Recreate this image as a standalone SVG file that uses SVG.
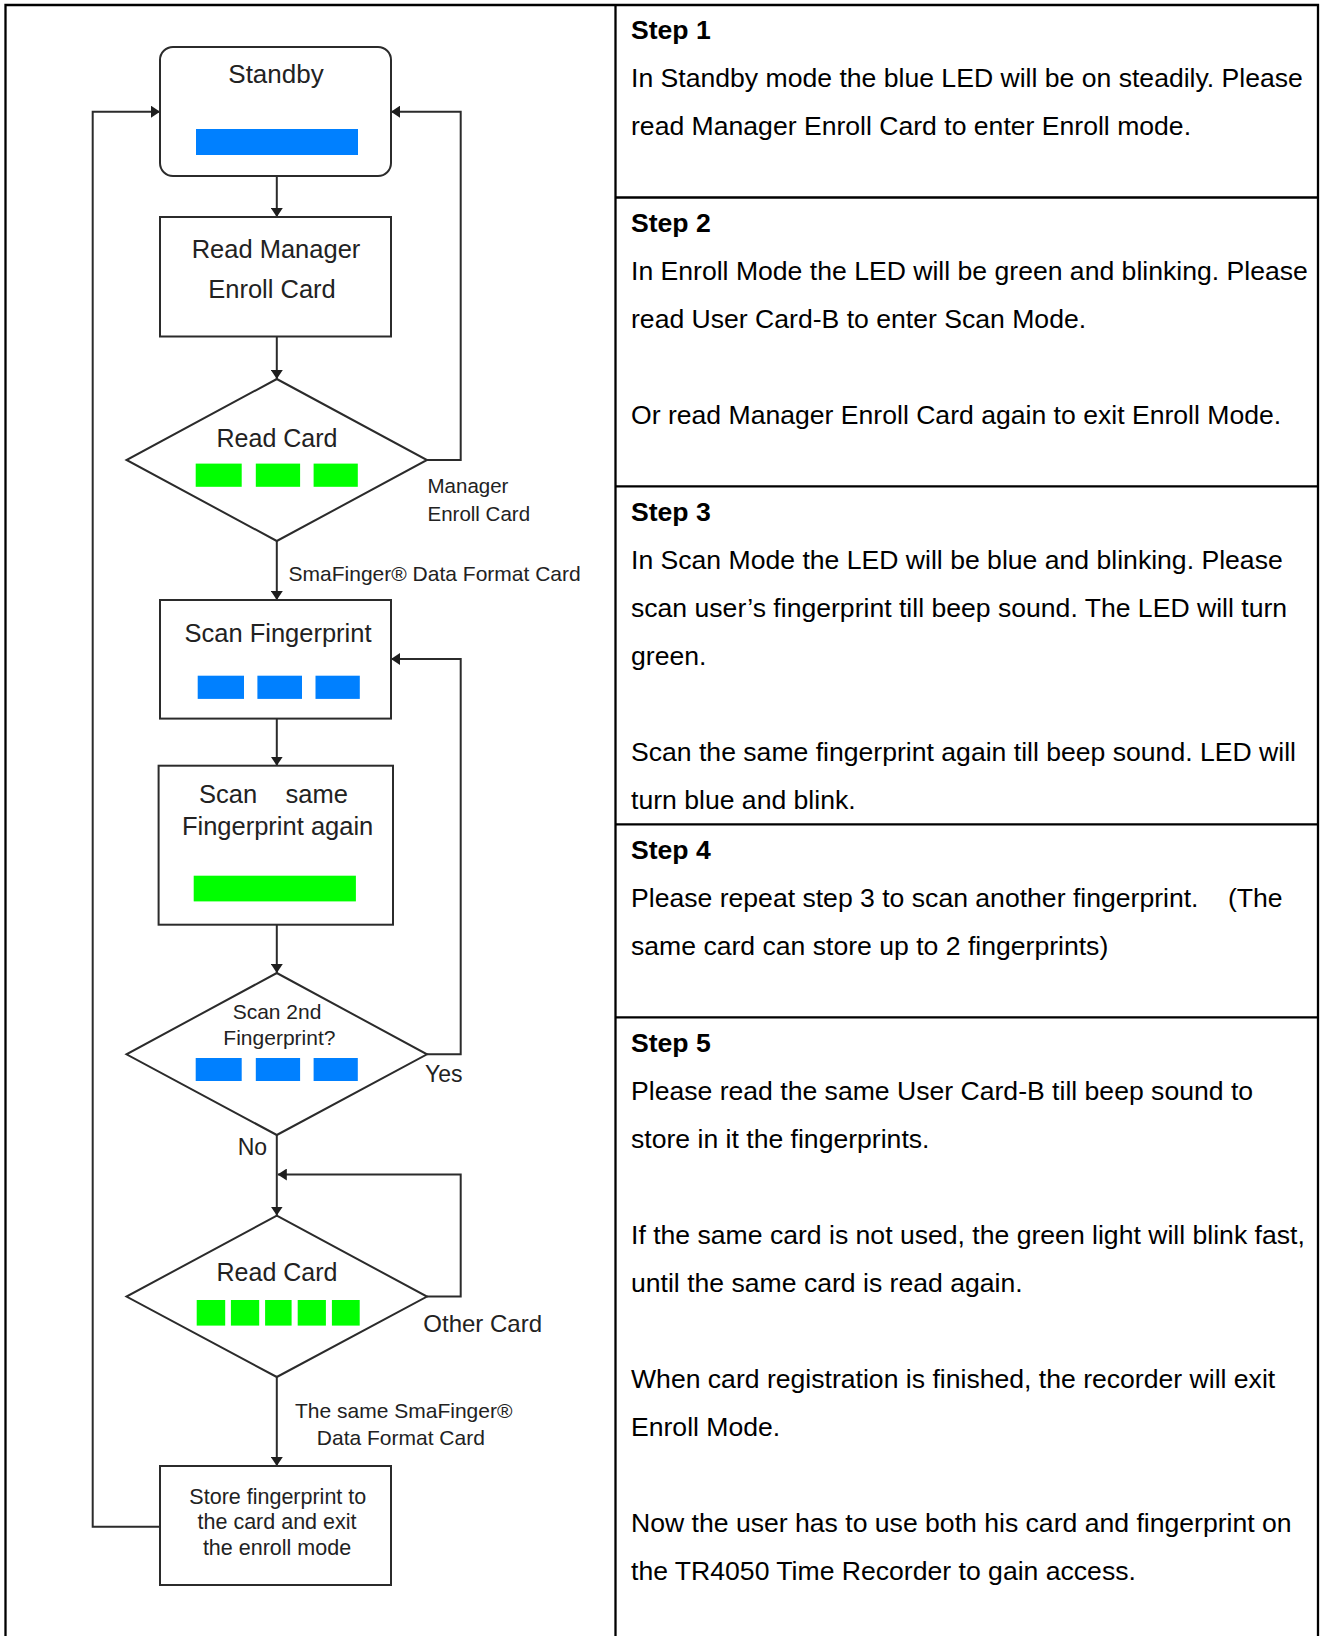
<svg xmlns="http://www.w3.org/2000/svg" width="1320" height="1636" viewBox="0 0 1320 1636">
<style>
.grid{fill:none;stroke:#000;stroke-width:2.3}
.ln{fill:none;stroke:#2b2b2b;stroke-width:2}
.nd{fill:#fff;stroke:#2b2b2b;stroke-width:2}
.ft{font-family:"Liberation Sans",Arial,sans-serif;fill:#222}
.c{text-anchor:middle}
.tb{font-family:"Liberation Sans",Arial,sans-serif;font-size:25px;fill:#000}
.b{font-weight:bold}
.blue{fill:#0080ff}
.green{fill:#00ff00}
</style>
<defs>
<marker id="ah" viewBox="0 0 9 12" refX="9" refY="6" markerWidth="9" markerHeight="12" markerUnits="userSpaceOnUse" orient="auto">
<path d="M0,0 L9,6 L0,12 z" fill="#1e1e1e"/>
</marker>
</defs>
<rect width="1320" height="1636" fill="#fff"/>

<g id="table">
<path class="grid" d="M5.5,1640 V5 H1318 V1640"/>
<line class="grid" x1="615.5" y1="5" x2="615.5" y2="1640"/>
<line class="grid" x1="615.5" y1="197.5" x2="1318" y2="197.5"/>
<line class="grid" x1="615.5" y1="486.3" x2="1318" y2="486.3"/>
<line class="grid" x1="615.5" y1="824.4" x2="1318" y2="824.4"/>
<line class="grid" x1="615.5" y1="1017.4" x2="1318" y2="1017.4"/>
</g>

<g id="steps" class="tb" transform="translate(631 0) scale(1.064 1)">
<g id="step1">
<text class="b" x="0" y="39.5">Step 1</text>
<text x="0" y="87.5">In Standby mode the blue LED will be on steadily. Please</text>
<text x="0" y="135.5">read Manager Enroll Card to enter Enroll mode.</text>
</g>
<g id="step2">
<text class="b" x="0" y="232">Step 2</text>
<text x="0" y="280">In Enroll Mode the LED will be green and blinking. Please</text>
<text x="0" y="328">read User Card-B to enter Scan Mode.</text>
<text x="0" y="424">Or read Manager Enroll Card again to exit Enroll Mode.</text>
</g>
<g id="step3">
<text class="b" x="0" y="521">Step 3</text>
<text x="0" y="569">In Scan Mode the LED will be blue and blinking. Please</text>
<text x="0" y="617">scan user’s fingerprint till beep sound. The LED will turn</text>
<text x="0" y="665">green.</text>
<text x="0" y="761">Scan the same fingerprint again till beep sound. LED will</text>
<text x="0" y="809">turn blue and blink.</text>
</g>
<g id="step4">
<text class="b" x="0" y="859">Step 4</text>
<text x="0" y="907">Please repeat step 3 to scan another fingerprint.<tspan x="561">(The</tspan></text>
<text x="0" y="955">same card can store up to 2 fingerprints)</text>
</g>
<g id="step5">
<text class="b" x="0" y="1052">Step 5</text>
<text x="0" y="1100">Please read the same User Card-B till beep sound to</text>
<text x="0" y="1148">store in it the fingerprints.</text>
<text x="0" y="1244">If the same card is not used, the green light will blink fast,</text>
<text x="0" y="1292">until the same card is read again.</text>
<text x="0" y="1388">When card registration is finished, the recorder will exit</text>
<text x="0" y="1436">Enroll Mode.</text>
<text x="0" y="1532">Now the user has to use both his card and fingerprint on</text>
<text x="0" y="1580">the TR4050 Time Recorder to gain access.</text>
</g>
</g>

<g id="connectors">
<line class="ln" x1="276.8" y1="176" x2="276.8" y2="217" marker-end="url(#ah)"/>
<line class="ln" x1="276.8" y1="336.5" x2="276.8" y2="379" marker-end="url(#ah)"/>
<polyline class="ln" points="427,460 460.7,460 460.7,111.7 391,111.7" marker-end="url(#ah)"/>
<line class="ln" x1="276.8" y1="541" x2="276.8" y2="600" marker-end="url(#ah)"/>
<line class="ln" x1="276.8" y1="718.6" x2="276.8" y2="765.7" marker-end="url(#ah)"/>
<line class="ln" x1="276.8" y1="924.6" x2="276.8" y2="973" marker-end="url(#ah)"/>
<polyline class="ln" points="427,1054.3 460.7,1054.3 460.7,659 391,659" marker-end="url(#ah)"/>
<line class="ln" x1="276.8" y1="1135" x2="276.8" y2="1215.6" marker-end="url(#ah)"/>
<polyline class="ln" points="427,1296.6 460.7,1296.6 460.7,1174.5 277.8,1174.5" marker-end="url(#ah)"/>
<line class="ln" x1="276.8" y1="1377" x2="276.8" y2="1466" marker-end="url(#ah)"/>
<polyline class="ln" points="160,1526.7 92.7,1526.7 92.7,111.7 160,111.7" marker-end="url(#ah)"/>
<g class="ft">
<text x="427.5" y="493.3" font-size="20.5">Manager</text>
<text x="427.5" y="521" font-size="20.5">Enroll Card</text>
<text x="288.6" y="580.5" font-size="21">SmaFinger® Data Format Card</text>
<text x="425" y="1082" font-size="23">Yes</text>
<text x="237.7" y="1155" font-size="23">No</text>
<text x="423.3" y="1332" font-size="24">Other Card</text>
<text x="295" y="1418" font-size="21">The same SmaFinger®</text>
<text x="316.8" y="1445.3" font-size="21">Data Format Card</text>
</g>
</g>

<g id="standby">
<rect class="nd" x="160" y="47" width="231" height="129" rx="13"/>
<text class="ft c" x="276" y="83" font-size="26">Standby</text>
<rect class="blue" x="196" y="129" width="162" height="26"/>
</g>

<g id="read-manager">
<rect class="nd" x="160" y="217" width="231" height="119.5"/>
<text class="ft c" x="276" y="258" font-size="25.5">Read Manager</text>
<text class="ft c" x="272" y="298" font-size="25.5">Enroll Card</text>
</g>

<g id="read-card-1">
<polygon class="nd" points="276.8,379 427,460 276.8,541 126.5,460"/>
<text class="ft c" x="277" y="446.5" font-size="25">Read Card</text>
<rect class="green" x="195.7" y="463.6" width="46" height="23.2"/>
<rect class="green" x="255.8" y="463.6" width="44.3" height="23.2"/>
<rect class="green" x="313.6" y="463.6" width="44.2" height="23.2"/>
</g>

<g id="scan-fingerprint">
<rect class="nd" x="160" y="600" width="231" height="118.6"/>
<text class="ft c" x="278" y="642" font-size="25.5">Scan Fingerprint</text>
<rect class="blue" x="197.7" y="675.7" width="46.3" height="23.2"/>
<rect class="blue" x="257.4" y="675.7" width="44.6" height="23.2"/>
<rect class="blue" x="315.5" y="675.7" width="44.3" height="23.2"/>
</g>

<g id="scan-same">
<rect class="nd" x="158.6" y="765.7" width="234.4" height="159"/>
<text class="ft" y="803" font-size="25.5"><tspan x="199">Scan</tspan><tspan x="285.5">same</tspan></text>
<text class="ft c" x="277.6" y="834.6" font-size="25.5">Fingerprint again</text>
<rect class="green" x="193.7" y="875.7" width="162.2" height="25.7"/>
</g>

<g id="scan-2nd">
<polygon class="nd" points="276.8,973 427,1054.3 276.8,1135 126.5,1054.3"/>
<text class="ft c" x="277" y="1018.6" font-size="21">Scan 2nd</text>
<text class="ft c" x="279.4" y="1045.4" font-size="21">Fingerprint?</text>
<rect class="blue" x="195.7" y="1058" width="46" height="23"/>
<rect class="blue" x="255.8" y="1058" width="44.3" height="23"/>
<rect class="blue" x="313.6" y="1058" width="44.2" height="23"/>
</g>

<g id="read-card-2">
<polygon class="nd" points="276.8,1215.6 427,1296.6 276.8,1377 126.5,1296.6"/>
<text class="ft c" x="277" y="1281" font-size="25">Read Card</text>
<rect class="green" x="196.7" y="1300" width="28.5" height="25.6"/>
<rect class="green" x="230.9" y="1300" width="28.3" height="25.6"/>
<rect class="green" x="265.1" y="1300" width="26.5" height="25.6"/>
<rect class="green" x="297.7" y="1300" width="28.2" height="25.6"/>
<rect class="green" x="331.9" y="1300" width="27.8" height="25.6"/>
</g>

<g id="store">
<rect class="nd" x="160" y="1466" width="231" height="119"/>
<text class="ft c" x="277.8" y="1504.4" font-size="21.5">Store fingerprint to</text>
<text class="ft c" x="277" y="1529" font-size="21.5">the card and exit</text>
<text class="ft c" x="277" y="1554.7" font-size="21.5">the enroll mode</text>
</g>
</svg>
